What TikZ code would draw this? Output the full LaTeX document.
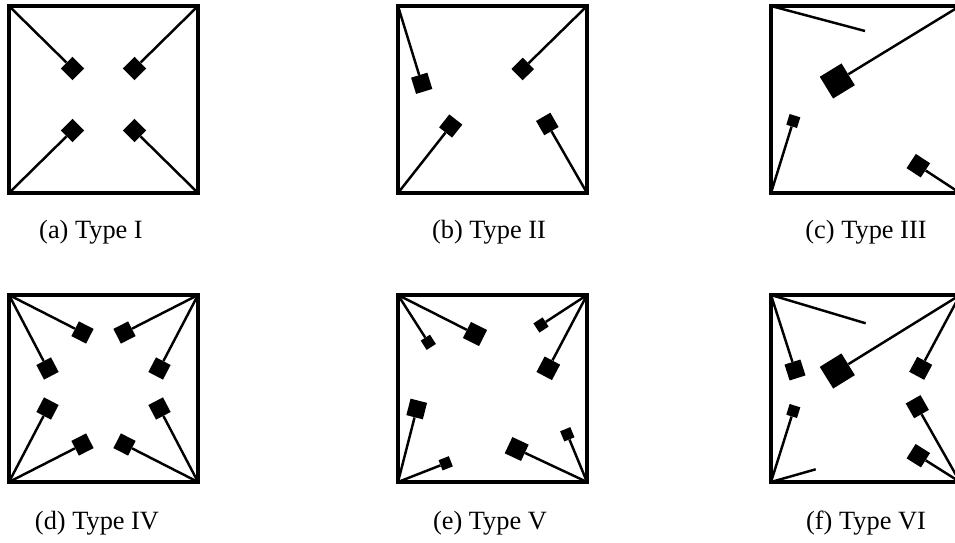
\documentclass[tikz,border=0pt]{standalone}
\usepackage{fontspec}
\setmainfont{Liberation Serif}

\begin{document}
\begin{tikzpicture}[x=0.03cm,y=-0.03cm,
  frame/.style={line width=2.6pt},
  wire/.style={line width=2.1pt},
  sensor/.style={rectangle,fill=black,inner sep=0pt,minimum size=#1*0.03cm,sloped,pos=1},
  caption/.style={font=\fontsize{22.5}{27}\selectfont}]
\useasboundingbox (0,0) rectangle (955,543);

% (a) Type I
\begin{scope}[shift={(9,6)}]
\draw[frame] (0,0) rectangle (189,187);
\coordinate (a-tl) at (0,0);
\coordinate (a-tr) at (189,0);
\coordinate (a-bl) at (0,187);
\coordinate (a-br) at (189,187);
\path (a-tl) -- (63.5,62.5) node[sensor=16.5] (a1) {};
\path (a-tr) -- (125.5,62.5) node[sensor=16.5] (a2) {};
\path (a-bl) -- (63.5,124.5) node[sensor=16.5] (a3) {};
\path (a-br) -- (125.5,124.5) node[sensor=16.5] (a4) {};
\draw[wire] (a-tl) -- (a1);
\draw[wire] (a-tr) -- (a2);
\draw[wire] (a-bl) -- (a3);
\draw[wire] (a-br) -- (a4);
\end{scope}

% (b) Type II
\begin{scope}[shift={(398,6)}]
\draw[frame] (0,0) rectangle (189,187);
\coordinate (b-tl) at (0,0);
\coordinate (b-tr) at (189,0);
\coordinate (b-bl) at (0,187);
\coordinate (b-br) at (189,187);
\path (b-tl) -- (23.7,77.3) node[sensor=17] (b1) {};
\path (b-tr) -- (124.7,63) node[sensor=16] (b2) {};
\path (b-bl) -- (52.7,120) node[sensor=16.5] (b3) {};
\path (b-br) -- (149.3,118) node[sensor=16.5] (b4) {};
\draw[wire] (b-tl) -- (b1);
\draw[wire] (b-tr) -- (b2);
\draw[wire] (b-bl) -- (b3);
\draw[wire] (b-br) -- (b4);
\end{scope}

% (c) Type III
\begin{scope}[shift={(771,6)}]
\draw[frame] (0,0) rectangle (189,187);
\coordinate (c-tl) at (0,0);
\coordinate (c-tr) at (189,0);
\coordinate (c-bl) at (0,187);
\coordinate (c-br) at (189,187);
\coordinate (c-end) at (94,25);
\path (c-tr) -- (66.3,75) node[sensor=25.5] (c1) {};
\path (c-bl) -- (22.3,115) node[sensor=11.2] (c2) {};
\path (c-br) -- (147.3,159.7) node[sensor=17] (c3) {};
\draw[wire] (c-tl) -- (c-end);
\draw[wire] (c-tr) -- (c1);
\draw[wire] (c-bl) -- (c2);
\draw[wire] (c-br) -- (c3);
\end{scope}

% (d) Type IV
\begin{scope}[shift={(9,295)}]
\draw[frame] (0,0) rectangle (189,187);
\coordinate (d-tl) at (0,0);
\coordinate (d-tr) at (189,0);
\coordinate (d-bl) at (0,187);
\coordinate (d-br) at (189,187);
\path (d-tl) -- (73.5,37.5) node[sensor=16.5] (d1) {};
\path (d-tl) -- (38.5,73.5) node[sensor=16.5] (d2) {};
\path (d-tr) -- (115.5,37.5) node[sensor=16.5] (d3) {};
\path (d-tr) -- (150.5,73.5) node[sensor=16.5] (d4) {};
\path (d-bl) -- (38.5,113.5) node[sensor=16.5] (d5) {};
\path (d-bl) -- (73.5,149.5) node[sensor=16.5] (d6) {};
\path (d-br) -- (150.5,113.5) node[sensor=16.5] (d7) {};
\path (d-br) -- (115.5,149.5) node[sensor=16.5] (d8) {};
\draw[wire] (d-tl) -- (d1);
\draw[wire] (d-tl) -- (d2);
\draw[wire] (d-tr) -- (d3);
\draw[wire] (d-tr) -- (d4);
\draw[wire] (d-bl) -- (d5);
\draw[wire] (d-bl) -- (d6);
\draw[wire] (d-br) -- (d7);
\draw[wire] (d-br) -- (d8);
\end{scope}

% (e) Type V
\begin{scope}[shift={(398,295)}]
\draw[frame] (0,0) rectangle (189,187);
\coordinate (e-tl) at (0,0);
\coordinate (e-tr) at (189,0);
\coordinate (e-bl) at (0,187);
\coordinate (e-br) at (189,187);
\path (e-tl) -- (30.3,47.3) node[sensor=11] (e1) {};
\path (e-tl) -- (77,39) node[sensor=18] (e2) {};
\path (e-tr) -- (143,30) node[sensor=11] (e3) {};
\path (e-tr) -- (150.3,73.3) node[sensor=17.5] (e4) {};
\path (e-bl) -- (18.7,114) node[sensor=17] (e5) {};
\path (e-bl) -- (47.7,168.3) node[sensor=11] (e6) {};
\path (e-br) -- (118.7,154) node[sensor=18] (e7) {};
\path (e-br) -- (169.3,139.3) node[sensor=11] (e8) {};
\draw[wire] (e-tl) -- (e1);
\draw[wire] (e-tl) -- (e2);
\draw[wire] (e-tr) -- (e3);
\draw[wire] (e-tr) -- (e4);
\draw[wire] (e-bl) -- (e5);
\draw[wire] (e-bl) -- (e6);
\draw[wire] (e-br) -- (e7);
\draw[wire] (e-br) -- (e8);
\end{scope}

% (f) Type VI
\begin{scope}[shift={(771,295)}]
\draw[frame] (0,0) rectangle (189,187);
\coordinate (f-tl) at (0,0);
\coordinate (f-tr) at (189,0);
\coordinate (f-bl) at (0,187);
\coordinate (f-br) at (189,187);
\coordinate (f-end1) at (94.7,28.3);
\coordinate (f-end2) at (44.7,174.3);
\path (f-tl) -- (24,75) node[sensor=16.7] (f1) {};
\path (f-tr) -- (66.3,76) node[sensor=25.5] (f2) {};
\path (f-tr) -- (149.7,73.3) node[sensor=17] (f3) {};
\path (f-bl) -- (22.3,116) node[sensor=11.2] (f4) {};
\path (f-br) -- (146.3,111.7) node[sensor=17] (f5) {};
\path (f-br) -- (147.3,160.7) node[sensor=17] (f6) {};
\draw[wire] (f-tl) -- (f-end1);
\draw[wire] (f-tl) -- (f1);
\draw[wire] (f-tr) -- (f2);
\draw[wire] (f-tr) -- (f3);
\draw[wire] (f-bl) -- (f4);
\draw[wire] (f-bl) -- (f-end2);
\draw[wire] (f-br) -- (f5);
\draw[wire] (f-br) -- (f6);
\end{scope}

% captions
\node[caption] (capa) at (91,232) {(a) Type I};
\node[caption] (capb) at (489,232) {(b) Type II};
\node[caption] (capc) at (866,232) {(c) Type III};
\node[caption] (capd) at (97,523) {(d) Type IV};
\node[caption] (cape) at (490,523) {(e) Type V};
\node[caption] (capf) at (866,523) {(f) Type VI};
\end{tikzpicture}
\end{document}
